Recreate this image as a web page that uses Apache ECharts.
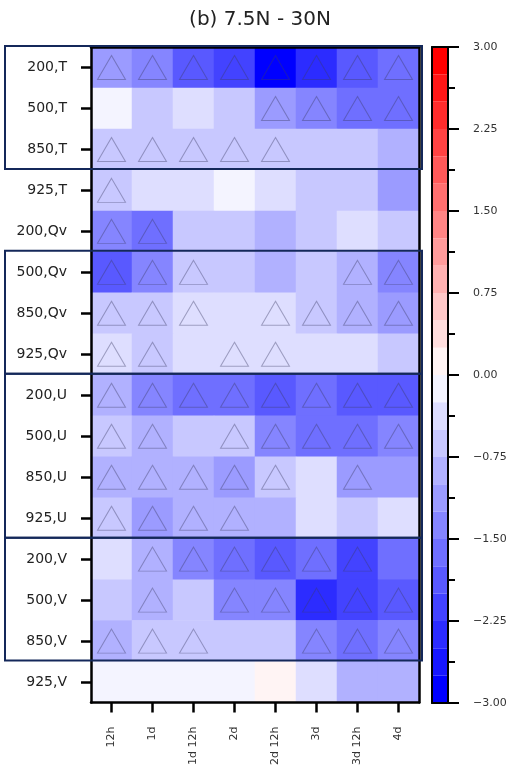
<!DOCTYPE html>
<html>
<head>
<meta charset="utf-8">
<script src="https://cdn.jsdelivr.net/npm/echarts@6/dist/echarts.min.js"></script>
<style>
  html, body { margin: 0; padding: 0; background: #fff; }
  #main { width: 518px; height: 768px; }
</style>
</head>
<body>
<div id="main"></div>
<script>
// columns (lead time) and rows (level, variable)
var cols = ["12h", "1d", "1d 12h", "2d", "2d 12h", "3d", "3d 12h", "4d"];
var rowLabels = [
  "200,T", "500,T", "850,T", "925,T",
  "200,Qv", "500,Qv", "850,Qv", "925,Qv",
  "200,U", "500,U", "850,U", "925,U",
  "200,V", "500,V", "850,V", "925,V"
];

// values, one array per variable (rows 200, 500, 850, 925)
var valT = [
  [-1.1, -1.4, -1.9, -2.1, -2.9, -2.45, -1.9, -1.6],
  [-0.1, -0.7, -0.35, -0.6, -1.15, -1.4, -1.65, -1.65],
  [-0.6, -0.6, -0.6, -0.6, -0.6, -0.6, -0.55, -0.9],
  [-0.6, -0.4, -0.4, -0.15, -0.35, -0.6, -0.6, -1.1]
];
var valQv = [
  [-1.4, -1.7, -0.6, -0.6, -0.9, -0.6, -0.3, -0.55],
  [-1.95, -1.4, -0.6, -0.6, -0.9, -0.6, -0.9, -1.4],
  [-0.7, -0.7, -0.4, -0.4, -0.4, -0.7, -0.95, -1.15],
  [-0.4, -0.7, -0.4, -0.4, -0.4, -0.4, -0.3, -0.6]
];
var valU = [
  [-0.9, -1.4, -1.6, -1.6, -1.9, -1.6, -1.9, -1.9],
  [-0.65, -0.9, -0.6, -0.6, -1.4, -1.6, -1.6, -1.35],
  [-0.9, -0.9, -0.9, -1.15, -0.6, -0.35, -1.2, -1.2],
  [-0.6, -1.15, -0.85, -0.85, -0.9, -0.35, -0.6, -0.3]
];
var valV = [
  [-0.35, -0.95, -1.45, -1.7, -1.9, -1.7, -2.15, -1.65],
  [-0.6, -0.95, -0.6, -1.4, -1.4, -2.4, -2.1, -1.85],
  [-0.95, -0.6, -0.6, -0.6, -0.6, -1.3, -1.7, -1.35],
  [-0.12, -0.12, -0.12, -0.12, 0.1, -0.35, -0.9, -0.9]
];

// significance marks (triangles)
var sigT = [
  [1, 1, 1, 1, 1, 1, 1, 1],
  [0, 0, 0, 0, 1, 1, 1, 1],
  [1, 1, 1, 1, 1, 0, 0, 0],
  [1, 0, 0, 0, 0, 0, 0, 0]
];
var sigQv = [
  [1, 1, 0, 0, 0, 0, 0, 0],
  [1, 1, 1, 0, 0, 0, 1, 1],
  [1, 1, 1, 0, 1, 1, 1, 1],
  [1, 1, 0, 1, 1, 0, 0, 0]
];
var sigU = [
  [1, 1, 1, 1, 1, 1, 1, 1],
  [1, 1, 0, 1, 1, 1, 1, 1],
  [1, 1, 1, 1, 1, 0, 1, 0],
  [1, 1, 1, 1, 0, 0, 0, 0]
];
var sigV = [
  [0, 1, 1, 1, 1, 1, 1, 0],
  [0, 1, 0, 1, 1, 1, 1, 1],
  [1, 1, 1, 0, 0, 1, 1, 1],
  [0, 0, 0, 0, 0, 0, 0, 0]
];

// colour levels of the bar
var cbMin = -3, cbMax = 3, cbStep = 0.25, cbTickStep = 0.75;

var values = valT.concat(valQv, valU, valV);
var signif = sigT.concat(sigQv, sigU, sigV);

// bwr colormap, discrete
var nLev = Math.round((cbMax - cbMin) / cbStep);
function bandColor(i) {
  var t = i / (nLev - 1);
  var r, g, b;
  if (t < 0.5) { r = g = Math.round(2 * t * 255); b = 255; }
  else { r = 255; g = b = Math.round(2 * (1 - t) * 255); }
  return "rgb(" + r + "," + g + "," + b + ")";
}
var pieces = [];
for (var i = 0; i < nLev; i++) {
  pieces.push({ gte: cbMin + i * cbStep, lt: cbMin + (i + 1) * cbStep, color: bandColor(i) });
}

var heatData = [];
var triData = [];
for (var r = 0; r < values.length; r++) {
  for (var c = 0; c < cols.length; c++) {
    heatData.push([c, r, values[r][c]]);
    if (signif[r][c]) triData.push([c, r]);
  }
}

// colour bar as stacked bars: negative half then positive half
var cbSeries = [];
var half = nLev / 2;
for (var k = 0; k < half; k++) {
  cbSeries.push({
    type: "bar", xAxisIndex: 2, yAxisIndex: 2, stack: "cb",
    barWidth: "100%", silent: true,
    data: [-cbStep], itemStyle: { color: bandColor(half - 1 - k) }
  });
  cbSeries.push({
    type: "bar", xAxisIndex: 2, yAxisIndex: 2, stack: "cb",
    barWidth: "100%", silent: true,
    data: [cbStep], itemStyle: { color: bandColor(half + k) }
  });
}

var font = "DejaVu Sans";
var frame = { show: true, onZero: false, lineStyle: { color: "#000", width: 2.5 } };

var chart = echarts.init(document.getElementById("main"));
var option = {
  animation: false,
  backgroundColor: "#fff",
  textStyle: { fontFamily: font },
  title: {
    text: "(b) 7.5N - 30N",
    left: 255, top: 5, textAlign: "center",
    textStyle: { fontFamily: font, fontSize: 20, fontWeight: "normal", color: "#222" }
  },
  grid: [
    { left: 91, top: 47, width: 328, height: 656 },
    { left: 432, top: 47, width: 16, height: 656 }
  ],
  visualMap: {
    type: "piecewise", show: false, seriesIndex: 0, dimension: 2,
    pieces: pieces
  },
  xAxis: [
    {
      gridIndex: 0, type: "category", data: cols, position: "bottom", z: 10,
      axisLine: frame,
      axisTick: { show: true, alignWithLabel: true, length: 10, lineStyle: { color: "#000", width: 2.5 } },
      axisLabel: { rotate: 90, fontSize: 11, color: "#333", margin: 24, fontFamily: font },
      splitLine: { show: false }
    },
    {
      gridIndex: 0, type: "category", data: cols, position: "top", z: 10,
      axisLine: frame, axisTick: { show: false }, axisLabel: { show: false }
    },
    {
      gridIndex: 1, type: "category", data: ["cb"], position: "bottom", z: 10,
      axisLine: { show: true, onZero: false, lineStyle: { color: "#000", width: 2 } },
      axisTick: { show: false }, axisLabel: { show: false }
    },
    {
      gridIndex: 1, type: "category", data: ["cb"], position: "top", z: 10,
      axisLine: { show: true, onZero: false, lineStyle: { color: "#000", width: 2 } },
      axisTick: { show: false }, axisLabel: { show: false }
    }
  ],
  yAxis: [
    {
      gridIndex: 0, type: "category", data: rowLabels, inverse: true, position: "left", z: 10,
      axisLine: frame,
      axisTick: { show: true, alignWithLabel: true, length: 10, lineStyle: { color: "#000", width: 2.5 } },
      axisLabel: { fontSize: 14, color: "#222", margin: 24, fontFamily: font },
      splitLine: { show: false }
    },
    {
      gridIndex: 0, type: "category", data: rowLabels, inverse: true, position: "right", z: 10,
      axisLine: frame, axisTick: { show: false }, axisLabel: { show: false }
    },
    {
      gridIndex: 1, type: "value", min: cbMin, max: cbMax, interval: cbTickStep, position: "right", z: 10,
      axisLine: { show: true, onZero: false, lineStyle: { color: "#000", width: 2 } },
      axisTick: { show: true, length: 11, lineStyle: { color: "#000", width: 2 } },
      minorTick: { show: true, splitNumber: 2, length: 7, lineStyle: { color: "#000", width: 2 } },
      axisLabel: {
        fontSize: 11, color: "#333", margin: 25, fontFamily: font,
        formatter: function (v) { return (v < 0 ? "\u2212" : "") + Math.abs(v).toFixed(2); }
      },
      splitLine: { show: false }
    },
    {
      gridIndex: 1, type: "value", min: cbMin, max: cbMax, position: "left", z: 10,
      axisLine: { show: true, onZero: false, lineStyle: { color: "#000", width: 2 } },
      axisTick: { show: false }, axisLabel: { show: false }, splitLine: { show: false }
    }
  ],
  series: [
    {
      type: "heatmap", xAxisIndex: 0, yAxisIndex: 0, data: heatData, silent: true,
      emphasis: { disabled: true }
    },
    {
      type: "scatter", xAxisIndex: 0, yAxisIndex: 0, data: triData, silent: true,
      symbol: "triangle", symbolSize: [28, 24], z: 3,
      itemStyle: { color: "rgba(0,0,0,0)", borderColor: "rgba(60,60,100,0.5)", borderWidth: 1 }
    }
  ].concat(cbSeries)
};
chart.setOption(option);

// navy group boxes around row blocks
var boxGroups = [[0, 2], [5, 7], [8, 11], [12, 14]];
var p0 = chart.convertToPixel({ xAxisIndex: 0, yAxisIndex: 0 }, [0, 0]);
var p1 = chart.convertToPixel({ xAxisIndex: 0, yAxisIndex: 0 }, [cols.length - 1, 1]);
var rowH = p1[1] - p0[1];
var colW = (p1[0] - p0[0]) / (cols.length - 1);
var rightEdge = p1[0] + colW / 2 + 3;
var boxes = boxGroups.map(function (g) {
  var top = p0[1] + (g[0] - 0.5) * rowH;
  var bot = p0[1] + (g[1] + 0.5) * rowH;
  return {
    type: "rect", z: 100, silent: true,
    shape: { x: 5, y: top - 1, width: rightEdge - 5, height: bot - top },
    style: { fill: null, stroke: "#14285a", lineWidth: 2 }
  };
});
chart.setOption({ graphic: boxes });
</script>
</body>
</html>
